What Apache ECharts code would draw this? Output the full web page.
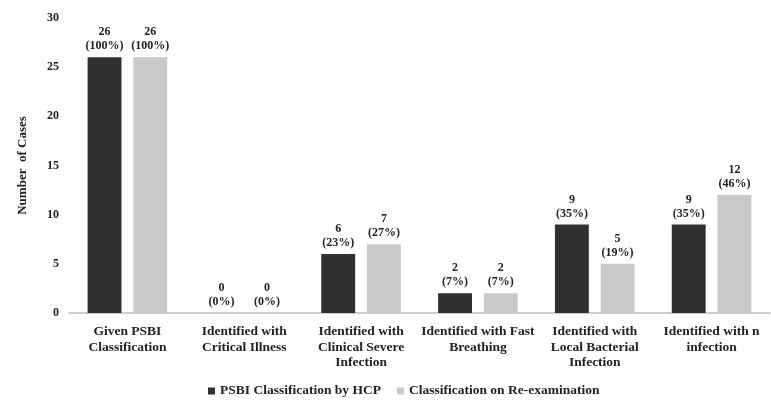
<!DOCTYPE html>
<html><head><meta charset="utf-8">
<script src="https://cdn.jsdelivr.net/npm/echarts@6/dist/echarts.min.js"></script>
<style>html,body{margin:0;padding:0;background:#fff}#c{width:771px;height:402px}</style>
</head><body><div id="c"></div>
<script>
const categories = ["Given PSBI\nClassification", "Identified with\nCritical Illness", "Identified with\nClinical Severe\nInfection", "Identified with Fast\nBreathing", "Identified with\nLocal Bacterial\nInfection", "Identified with n\ninfection"];
const hcpValues = [26, 0, 6, 2, 9, 9];
const hcpPct = ["100%", "0%", "23%", "7%", "35%", "35%"];
const reValues = [26, 0, 7, 2, 5, 12];
const rePct = ["100%", "0%", "27%", "7%", "19%", "46%"];
const seriesNames = ["PSBI Classification by HCP", "Classification on Re-examination"];

const font = "Liberation Serif";
const lbl = (pct) => ({
  show: true, position: 'top', distance: 4,
  fontFamily: font, fontWeight: 'bold', fontSize: 12, color: '#222', lineHeight: 14,
  formatter: p => p.value + "\n(" + pct[p.dataIndex] + ")"
});
const chart = echarts.init(document.getElementById('c'));
chart.setOption({
  animation: false,
  grid: { left: 69, right: 1, top: 18, bottom: 89 },
  legend: {
    top: 382, left: 203, itemWidth: 7, itemHeight: 7, itemGap: 16, padding: [2, 5],
    textStyle: { fontFamily: font, fontWeight: 'bold', fontSize: 13.5, color: '#222' },
    data: [{ name: seriesNames[0], icon: 'rect' }, { name: seriesNames[1], icon: 'rect' }]
  },
  xAxis: {
    type: 'category', data: categories,
    axisLine: { lineStyle: { color: '#bfbfbf', width: 1.5 } },
    axisTick: { show: false },
    axisLabel: { fontFamily: font, fontWeight: 'bold', fontSize: 13.5, color: '#222', lineHeight: 15.5, interval: 0, margin: 11 }
  },
  yAxis: {
    type: 'value', min: 0, max: 30, interval: 5,
    name: 'Number  of Cases', nameLocation: 'middle', nameGap: 40, nameRotate: 90,
    nameTextStyle: { fontFamily: font, fontWeight: 'bold', fontSize: 13, color: '#222' },
    axisLine: { show: false }, axisTick: { show: false }, splitLine: { show: false },
    axisLabel: { fontFamily: font, fontWeight: 'bold', fontSize: 12, color: '#222', margin: 10 }
  },
  series: [
    { name: seriesNames[0], type: 'bar', data: hcpValues, barWidth: '29%', barGap: '35%',
      itemStyle: { color: '#303030' }, label: lbl(hcpPct) },
    { name: seriesNames[1], type: 'bar', data: reValues, barWidth: '29%',
      itemStyle: { color: '#c9c9c9' }, label: lbl(rePct) }
  ]
});
</script></body></html>
